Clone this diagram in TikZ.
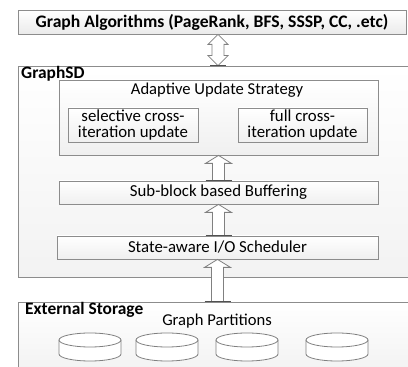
\documentclass[tikz,border=0pt]{standalone}
\usepackage{fontspec}
\setmainfont{Carlito}
\usetikzlibrary{calc}
\definecolor{boxgray}{HTML}{8C8C8C}
\definecolor{arrgray}{HTML}{808080}
\definecolor{basedark}{HTML}{505050}
\newcommand\blkup[2]{%
  \draw[blk] let \p1=(#1.north), \p2=(#2.south) in
    (\x2-6,\y1) -- (\x2-6,\y2-8) -- (\x2-13,\y2-8) -- (\x2,\y2) -- (\x2+13,\y2-8) -- (\x2+6,\y2-8) -- (\x2+6,\y1) -- cycle;
  \draw[baseln] let \p1=(#1.north), \p2=(#2.south) in (\x2-13,\y1) -- (\x2+13,\y1);}
\begin{document}
\begin{tikzpicture}[x=1pt,y=1pt,
  box/.style={draw=boxgray, line width=0.8pt, top color=white, bottom color=gray!12, inner sep=0pt, font=\fontsize{16.8}{16}\selectfont},
  outerbox/.style={draw=boxgray, line width=0.8pt, top color=white, bottom color=gray!10, inner sep=0pt},
  titlebox/.style={draw=boxgray, line width=0.8pt, top color=white, bottom color=gray!16, inner sep=0pt, font=\fontsize{17.6}{17}\selectfont\bfseries},
  lbl/.style={inner sep=0pt, font=\fontsize{16.6}{16}\selectfont},
  blbl/.style={inner sep=0pt, font=\fontsize{17.4}{17}\selectfont\bfseries},
  blk/.style={draw=arrgray, line width=0.8pt, fill=white},
  baseln/.style={draw=basedark, line width=1.2pt},
  cyl/.style={draw=arrgray, line width=0.8pt, fill=white}]
\useasboundingbox (0,0) rectangle (408,367);
% top box
\node[titlebox, minimum width=388, minimum height=24] (alg) at (212,345) {Graph Algorithms (PageRank, BFS, SSSP, CC, .etc)};
% GraphSD container
\node[outerbox, minimum width=394, minimum height=211] (gsd) at (215,195.5) {};
\node[blbl, anchor=west] (gsdl) at (21,293) {GraphSD};
% adaptive update strategy
\node[box, minimum width=319, minimum height=75] (aus) at (218.5,249.5) {};
\node[lbl] (ausl) at (217,277) {Adaptive Update Strategy};
\node[box, minimum width=130, minimum height=34, align=center] (sel) at (133,242) {selective cross-\\iteration update};
\node[box, minimum width=129, minimum height=34, align=center] (full) at (302.5,242) {full cross-\\iteration update};
% buffering and scheduler
\node[box, minimum width=319, minimum height=23] (sub) at (218.5,174.5) {Sub-block based Buffering};
\node[box, minimum width=321, minimum height=23] (sched) at (217.5,119.5) {State-aware I/O Scheduler};
% external storage
\node[outerbox, minimum width=394, minimum height=70] (ext) at (215,30) {};
\node[blbl, anchor=west] (extl) at (25,57) {External Storage};
\node[lbl] (gp) at (217,46) {Graph Partitions};
% cylinders
\foreach \cx/\nm in {90/p1,167/p2,247/p3,337/p4}{
  \coordinate (\nm) at (\cx,27);
  \draw[cyl] (\cx-31,27) -- (\cx-31,13) arc[start angle=180,end angle=360,x radius=31,y radius=7] -- (\cx+31,27);
  \draw[cyl] (\nm) ellipse[x radius=31,y radius=7];
}
% double arrow between algorithms and GraphSD
\draw[blk] let \p1=(gsd.north), \p2=(alg.south) in
  (218,\y2) -- (208,\y2-10) -- (212,\y2-10) -- (212,\y1+10) -- (208,\y1+10) -- (218,\y1)
  -- (228,\y1+10) -- (224,\y1+10) -- (224,\y2-10) -- (228,\y2-10) -- cycle;
\draw[baseln] let \p1=(gsd.north) in (210,\y1) -- (226,\y1);
% up arrows
\blkup{sub}{aus}
\blkup{sched}{sub}
\blkup{ext}{sched}
\end{tikzpicture}
\end{document}
